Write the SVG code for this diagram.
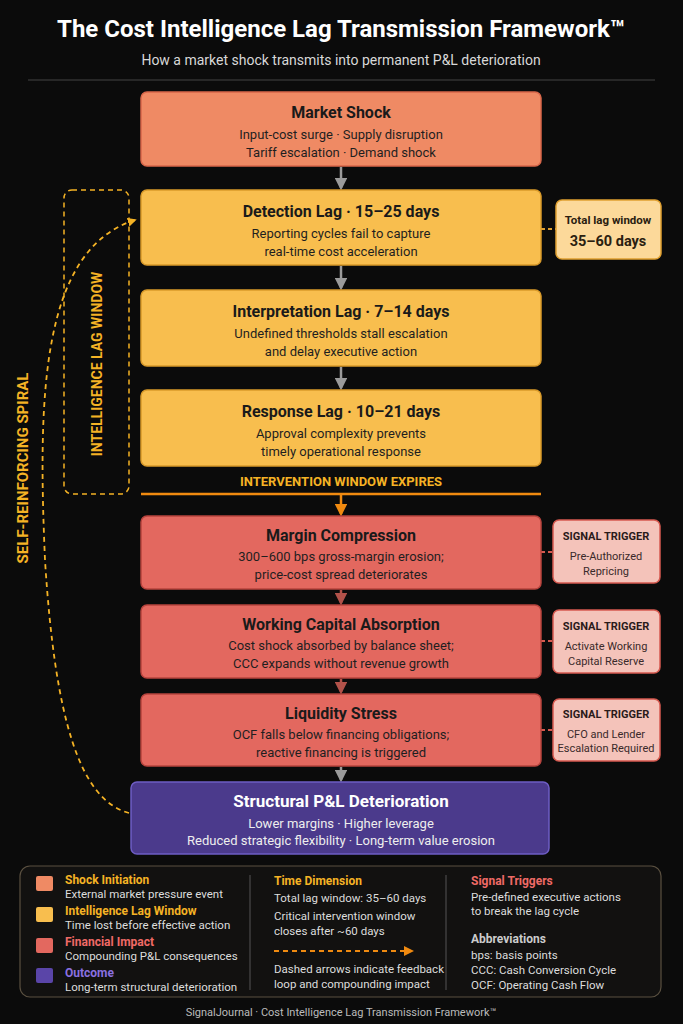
<svg xmlns="http://www.w3.org/2000/svg" width="683" height="1024" viewBox="0 0 683 1024">
<defs>
<style>
text{font-family:"Roboto","Liberation Sans",sans-serif;}
.t{font-weight:bold;font-size:16px;fill:#1a1a1a;text-anchor:middle}
.s{font-size:13px;fill:#1f1f1f;text-anchor:middle}
.shock{fill:#ef8a64;stroke:#d9674a;stroke-width:1.5}
.lag{fill:#f8be4e;stroke:#d99a2a;stroke-width:1.5}
.fin{fill:#e3685f;stroke:#b8443e;stroke-width:1.5}
.sig{fill:#f4c3ba;stroke:#d65a50;stroke-width:1.5}
.st{font-weight:bold;font-size:11px;fill:#2a1a1a;text-anchor:middle}
.ss{font-size:11px;fill:#3a2a2a;text-anchor:middle}
.lh{font-weight:bold;font-size:12px}
.lt{font-size:11.5px;fill:#ddd}
</style>
<marker id="ag" viewBox="0 0 10 10" refX="8" refY="5" markerWidth="5" markerHeight="5" orient="auto"><path d="M0,0L10,5L0,10z" fill="#9a9a9a"/></marker>
<marker id="ar" viewBox="0 0 10 10" refX="8" refY="5" markerWidth="5" markerHeight="5" orient="auto"><path d="M0,0L10,5L0,10z" fill="#b2524a"/></marker>
<marker id="ao" viewBox="0 0 10 10" refX="8" refY="5" markerWidth="5" markerHeight="5" orient="auto"><path d="M0,0L10,5L0,10z" fill="#f08a10"/></marker>
<marker id="ay" viewBox="0 0 10 10" refX="8" refY="5" markerWidth="5" markerHeight="5" orient="auto"><path d="M0,0L10,5L0,10z" fill="#f5b325"/></marker>
</defs>
<rect width="683" height="1024" fill="#0b0b0b"/>
<text x="341" y="37" text-anchor="middle" font-size="24" font-weight="bold" fill="#fff">The Cost Intelligence Lag Transmission Framework™</text>
<text x="341" y="65" text-anchor="middle" font-size="14" fill="#d8d8d8">How a market shock transmits into permanent P&amp;L deterioration</text>
<line x1="28" y1="80" x2="655" y2="80" stroke="#444" stroke-width="1"/>

<g id="connectors">
<line x1="341" y1="167" x2="341" y2="188" stroke="#9a9a9a" stroke-width="2.5" marker-end="url(#ag)"/>
<line x1="341" y1="266" x2="341" y2="288" stroke="#9a9a9a" stroke-width="2.5" marker-end="url(#ag)"/>
<line x1="341" y1="367" x2="341" y2="388" stroke="#9a9a9a" stroke-width="2.5" marker-end="url(#ag)"/>
<line x1="141" y1="494" x2="541" y2="494" stroke="#f08a10" stroke-width="2.5"/>
<line x1="341" y1="494" x2="341" y2="514" stroke="#f08a10" stroke-width="2.5" marker-end="url(#ao)"/>
<line x1="341" y1="590" x2="341" y2="603" stroke="#b2524a" stroke-width="2.5" marker-end="url(#ar)"/>
<line x1="341" y1="679" x2="341" y2="692" stroke="#b2524a" stroke-width="2.5" marker-end="url(#ar)"/>
<line x1="341" y1="767" x2="341" y2="780" stroke="#9a9a9a" stroke-width="2.5" marker-end="url(#ag)"/>
<line x1="541" y1="229" x2="556" y2="229" stroke="#e0a030" stroke-width="2" stroke-dasharray="4,3"/>
<line x1="541" y1="552" x2="553" y2="552" stroke="#d65a50" stroke-width="2" stroke-dasharray="4,3"/>
<line x1="541" y1="641" x2="553" y2="641" stroke="#d65a50" stroke-width="2" stroke-dasharray="4,3"/>
<line x1="541" y1="730" x2="553" y2="730" stroke="#d65a50" stroke-width="2" stroke-dasharray="4,3"/>
<path d="M129,813 C80,800 55,720 45,560 C38,400 40,250 135,220" fill="none" stroke="#f5b325" stroke-width="1.8" stroke-dasharray="5,4" marker-end="url(#ay)"/>
</g>

<g id="lagwindow">
<rect x="64" y="190" width="65" height="304" rx="8" fill="none" stroke="#f5b325" stroke-width="1.5" stroke-dasharray="5,4"/>
<text transform="translate(102,364) rotate(-90)" text-anchor="middle" font-size="14" font-weight="bold" fill="#f5b325">INTELLIGENCE LAG WINDOW</text>
</g>
<text transform="translate(28,468) rotate(-90)" text-anchor="middle" font-size="15" font-weight="bold" fill="#f5b325">SELF-REINFORCING SPIRAL</text>

<g id="market-shock"><rect class="shock" x="141" y="92" width="400" height="74" rx="6"/>
<text class="t" x="341" y="118">Market Shock</text><text class="s" x="341" y="139">Input-cost surge · Supply disruption</text><text class="s" x="341" y="157">Tariff escalation · Demand shock</text></g>
<g id="detection"><rect class="lag" x="141" y="190" width="400" height="75" rx="6"/>
<text class="t" x="341" y="217">Detection Lag · 15–25 days</text><text class="s" x="341" y="238">Reporting cycles fail to capture</text><text class="s" x="341" y="256">real-time cost acceleration</text></g>
<g id="interpretation"><rect class="lag" x="141" y="290" width="400" height="76" rx="6"/>
<text class="t" x="341" y="317">Interpretation Lag · 7–14 days</text><text class="s" x="341" y="338">Undefined thresholds stall escalation</text><text class="s" x="341" y="356">and delay executive action</text></g>
<g id="response"><rect class="lag" x="141" y="390" width="400" height="76" rx="6"/>
<text class="t" x="341" y="417">Response Lag · 10–21 days</text><text class="s" x="341" y="438">Approval complexity prevents</text><text class="s" x="341" y="456">timely operational response</text></g>
<text x="341" y="486" text-anchor="middle" font-size="13" font-weight="bold" fill="#f5b325">INTERVENTION WINDOW EXPIRES</text>
<g id="total-lag"><rect x="556" y="200" width="105" height="59" rx="6" fill="#fcd99a" stroke="#e0a030" stroke-width="1.5"/>
<text x="608" y="224" text-anchor="middle" font-size="11.5" fill="#2a2010" font-weight="bold">Total lag window</text>
<text x="608" y="246" text-anchor="middle" font-size="14.5" fill="#2a2010" font-weight="bold">35–60 days</text></g>

<g id="margin"><rect class="fin" x="141" y="516" width="400" height="73" rx="6"/>
<text class="t" x="341" y="541">Margin Compression</text><text class="s" x="341" y="561">300–600 bps gross-margin erosion;</text><text class="s" x="341" y="579">price-cost spread deteriorates</text></g>
<g id="working-capital"><rect class="fin" x="141" y="605" width="400" height="73" rx="6"/>
<text class="t" x="341" y="630">Working Capital Absorption</text><text class="s" x="341" y="650">Cost shock absorbed by balance sheet;</text><text class="s" x="341" y="668">CCC expands without revenue growth</text></g>
<g id="liquidity"><rect class="fin" x="141" y="694" width="400" height="72" rx="6"/>
<text class="t" x="341" y="719">Liquidity Stress</text><text class="s" x="341" y="739">OCF falls below financing obligations;</text><text class="s" x="341" y="757">reactive financing is triggered</text></g>
<g id="structural"><rect x="131" y="782" width="418" height="72" rx="6" fill="#4b3a8c" stroke="#6e5dc4" stroke-width="1.5"/>
<text x="341" y="807" text-anchor="middle" font-size="17" font-weight="bold" fill="#fff">Structural P&amp;L Deterioration</text>
<text x="341" y="828" text-anchor="middle" font-size="13" fill="#eee">Lower margins · Higher leverage</text>
<text x="341" y="845" text-anchor="middle" font-size="13" fill="#eee">Reduced strategic flexibility · Long-term value erosion</text></g>

<g id="sig1"><rect class="sig" x="553" y="520" width="107" height="63" rx="6"/>
<text class="st" x="606" y="540">SIGNAL TRIGGER</text><text class="ss" x="606" y="560">Pre-Authorized</text><text class="ss" x="606" y="575">Repricing</text></g>
<g id="sig2"><rect class="sig" x="553" y="610" width="107" height="63" rx="6"/>
<text class="st" x="606" y="630">SIGNAL TRIGGER</text><text class="ss" x="606" y="650">Activate Working</text><text class="ss" x="606" y="665">Capital Reserve</text></g>
<g id="sig3"><rect class="sig" x="553" y="699" width="107" height="62" rx="6"/>
<text class="st" x="606" y="718">SIGNAL TRIGGER</text><text class="ss" x="606" y="738">CFO and Lender</text><text class="ss" x="606" y="752">Escalation Required</text></g>

<g id="legend">
<rect x="20" y="866" width="641" height="131" rx="10" fill="#121110" stroke="#5a5040" stroke-width="1.2"/>
<line x1="250" y1="875" x2="250" y2="990" stroke="#555" stroke-width="1"/>
<line x1="446" y1="875" x2="446" y2="990" stroke="#555" stroke-width="1"/>
<rect x="36" y="876" width="17" height="15" rx="2" fill="#ef8a64"/>
<rect x="36" y="907" width="17" height="15" rx="2" fill="#f8be4e"/>
<rect x="36" y="938" width="17" height="15" rx="2" fill="#e3685f"/>
<rect x="36" y="968" width="17" height="15" rx="2" fill="#5a45a8"/>
<text class="lh" x="65" y="884" fill="#f5b325">Shock Initiation</text><text class="lt" x="65" y="898">External market pressure event</text>
<text class="lh" x="65" y="915" fill="#f5b325">Intelligence Lag Window</text><text class="lt" x="65" y="929">Time lost before effective action</text>
<text class="lh" x="65" y="946" fill="#ef6a66">Financial Impact</text><text class="lt" x="65" y="960">Compounding P&amp;L consequences</text>
<text class="lh" x="65" y="977" fill="#8a70e0">Outcome</text><text class="lt" x="65" y="991">Long-term structural deterioration</text>
<text class="lh" x="274" y="885" fill="#f5b325">Time Dimension</text>
<text class="lt" x="274" y="902">Total lag window: 35–60 days</text>
<text class="lt" x="274" y="920">Critical intervention window</text>
<text class="lt" x="274" y="935">closes after ~60 days</text>
<line x1="274" y1="951" x2="412" y2="951" stroke="#f08a10" stroke-width="2" stroke-dasharray="5,4" marker-end="url(#ao)"/>
<text class="lt" x="274" y="973">Dashed arrows indicate feedback</text>
<text class="lt" x="274" y="988">loop and compounding impact</text>
<text class="lh" x="471" y="885" fill="#ef6a66">Signal Triggers</text>
<text class="lt" x="471" y="901">Pre-defined executive actions</text>
<text class="lt" x="471" y="915">to break the lag cycle</text>
<text class="lh" x="471" y="943" fill="#ccc">Abbreviations</text>
<text class="lt" x="471" y="959">bps: basis points</text>
<text class="lt" x="471" y="974">CCC: Cash Conversion Cycle</text>
<text class="lt" x="471" y="989">OCF: Operating Cash Flow</text>
</g>
<text x="341" y="1016" text-anchor="middle" font-size="11" fill="#bbb">SignalJournal · Cost Intelligence Lag Transmission Framework™</text>
</svg>
